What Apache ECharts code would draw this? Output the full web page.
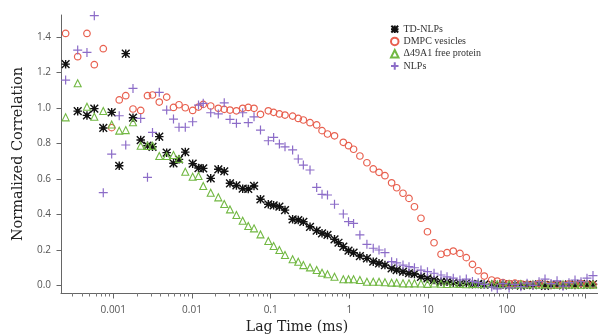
<!DOCTYPE html>
<html><head><meta charset="utf-8">
<script src="https://cdn.jsdelivr.net/npm/echarts@6/dist/echarts.min.js"></script>
<style>html,body{margin:0;padding:0;background:#fff}#c{width:598px;height:335px}</style>
</head><body><div id="c"></div>
<script>
// Lag times (ms), shared correlator channels
const lagTimes = [
0.000248, 0.000353, 0.000463, 0.000574, 0.000746, 0.000954, 0.00119, 0.00144, 0.00178, 0.00223,
0.00272, 0.00315, 0.00384, 0.00477, 0.00582, 0.00684, 0.00822, 0.0102, 0.0121, 0.0139,
0.0173, 0.0216, 0.0257, 0.0304, 0.0367, 0.0441, 0.0519, 0.0614, 0.0742, 0.0933,
0.109, 0.129, 0.152, 0.190, 0.224, 0.260, 0.316, 0.384, 0.449, 0.527,
0.647, 0.727, 0.837, 0.975, 1.13, 1.36, 1.67, 2.01, 2.38, 2.83,
3.44, 3.99, 4.80, 5.72, 6.71, 8.12, 9.82, 11.9, 14.6, 17.4,
20.9, 25.4, 30.6, 36.6, 43.4, 51.8, 64.3, 75.7, 89.5, 107,
127, 151, 181, 215, 257, 306, 365, 435, 518, 617,
736, 877, 1045, 1245];

const tdNlps = [
1.247, 0.982, 0.958, 0.996, 0.887, 0.975, 0.674, 1.306, 0.945, 0.819,
0.787, 0.781, 0.838, 0.748, 0.688, 0.710, 0.751, 0.686, 0.661, 0.659,
0.603, 0.654, 0.643, 0.575, 0.563, 0.545, 0.543, 0.560, 0.485, 0.457,
0.451, 0.443, 0.424, 0.372, 0.368, 0.358, 0.330, 0.308, 0.293, 0.284,
0.259, 0.240, 0.218, 0.195, 0.184, 0.165, 0.152, 0.133, 0.124, 0.114,
0.096, 0.086, 0.077, 0.068, 0.064, 0.048, 0.039, 0.030, 0.020, 0.020,
0.015, 0.010, 0.012, 0.006, 0.008, 0.004, 0.006, 0.002, 0.005, 0.000,
0.004, -0.002, 0.003, 0.001, 0.006, -0.003, 0.002, 0.004, -0.001, 0.005,
0.002, 0.008, 0.003, 0.006];

const dmpcVesicles = [
1.420, 1.289, 1.420, 1.244, 1.334, 0.889, 1.045, 1.069, 0.994, 0.986,
1.069, 1.073, 1.033, 1.061, 1.003, 1.018, 1.001, 0.986, 1.005, 1.020,
1.011, 0.998, 0.992, 0.988, 0.984, 0.998, 1.003, 0.998, 0.964, 0.984,
0.975, 0.966, 0.960, 0.954, 0.941, 0.932, 0.917, 0.904, 0.872, 0.853,
0.843, null, 0.806, 0.787, 0.767, 0.729, 0.691, 0.656, 0.637, 0.618,
0.578, 0.550, 0.519, 0.490, 0.443, 0.378, 0.302, 0.240, 0.175, 0.184,
0.193, 0.180, 0.156, 0.118, 0.082, 0.052, 0.030, 0.024, 0.015, 0.010,
0.012, 0.008, 0.006, 0.004, 0.010, 0.005, 0.002, 0.006, 0.003, 0.008,
0.004, 0.010, 0.006, 0.003];

const freeProtein = [
0.947, 1.139, 1.007, 0.950, 0.983, 0.907, 0.872, 0.875, 0.919, 0.787,
0.785, 0.787, 0.729, 0.729, 0.735, 0.712, 0.640, 0.612, 0.616, 0.560,
0.522, 0.496, 0.458, 0.428, 0.396, 0.364, 0.334, 0.321, 0.287, 0.250,
0.222, 0.199, 0.171, 0.147, 0.133, 0.114, 0.101, 0.086, 0.071, 0.062,
0.048, null, 0.034, 0.034, 0.034, 0.030, 0.020, 0.020, 0.020, 0.017,
0.015, 0.015, 0.011, 0.011, 0.011, 0.010, 0.008, 0.010, 0.009, 0.007,
0.009, 0.008, 0.006, 0.008, 0.007, 0.006, 0.008, 0.005, 0.007, 0.006,
0.004, 0.007, 0.005, 0.006, 0.004, 0.006, 0.005, 0.003, 0.006, 0.004,
0.005, 0.003, 0.005, 0.004];

const nlps = [
1.157, 1.326, 1.313, 1.520, 0.522, 0.740, 0.956, 0.791, 1.110, 0.941,
0.609, 0.862, 1.088, 0.988, 0.937, 0.891, 0.891, 0.922, 1.016, 1.026,
0.973, 0.966, 1.029, 0.936, 0.913, 0.973, 0.917, 0.950, 0.875, 0.815,
0.834, 0.797, 0.781, 0.763, 0.712, 0.678, 0.650, 0.552, 0.513, 0.509,
0.457, null, 0.402, 0.359, 0.349, 0.284, 0.231, 0.209, 0.199, 0.184,
0.133, 0.127, 0.114, 0.105, 0.099, 0.086, 0.077, 0.068, 0.058, 0.048,
0.040, 0.030, 0.035, 0.022, 0.015, 0.005, -0.010, -0.020, 0.010, -0.015,
0.005, -0.008, 0.012, 0.000, 0.020, 0.035, 0.010, 0.025, -0.005, 0.015,
0.030, 0.020, 0.040, 0.055];

const seriesNames = ['TD-NLPs', 'DMPC vesicles', '\u039449A1 free protein', 'NLPs'];
const xLabelValues = [0.001, 0.01, 0.1, 1, 10, 100];
const xMajorTicks = [0.001, 0.01, 0.1, 1, 10, 100, 1000];
const yTickValues = [0, 0.2, 0.4, 0.6, 0.8, 1.0, 1.2, 1.4];

const X_MIN = 2.166e-4, X_MAX = 1442;
const xMinorTicks = [];
for (let e = -4; e <= 2; e++) {
  for (let k = 2; k <= 9; k++) {
    const v = +(k * Math.pow(10, e)).toPrecision(3);
    if (v > X_MIN && v < X_MAX) xMinorTicks.push(v);
  }
}

function pairs(vals) {
  const out = [];
  lagTimes.forEach((t, i) => { if (vals[i] !== null) out.push([t, vals[i]]); });
  return out;
}

const starSym = 'path://M0 0L20 20M20 0L0 20M10 -1L10 21M-1 10L21 10M6.5 6.5L13.5 6.5L13.5 13.5L6.5 13.5Z';
const plusSym = 'path://M10 0L10 20M0 10L20 10';

const chart = echarts.init(document.getElementById('c'), null, {renderer: 'canvas'});
const labelFont = {color: '#555', fontSize: 10, fontFamily: 'Open Sans'};
chart.setOption({
  animation: false,
  backgroundColor: '#fff',
  grid: {left: 61, right: 0, top: 15, bottom: 42, containLabel: false, outerBoundsMode: 'none'},
  legend: {
    orient: 'vertical', left: 390, top: 23, padding: 0, itemGap: 0,
    itemWidth: 7.5, itemHeight: 7.5,
    textStyle: {fontFamily: 'Liberation Serif', fontSize: 10, color: '#333', lineHeight: 12.3},
    data: seriesNames
  },
  xAxis: [{
    type: 'log', logBase: 10, min: X_MIN, max: X_MAX, position: 'bottom',
    axisLine: {show: true, onZero: false, lineStyle: {color: '#666', width: 1}},
    axisTick: {show: true, length: 5.5, customValues: xMajorTicks, lineStyle: {color: '#666'}},
    axisLabel: Object.assign({customValues: xLabelValues, margin: 12,
      formatter: v => String(+(+v).toPrecision(3))}, labelFont),
    splitLine: {show: false},
    name: 'Lag Time (ms)', nameLocation: 'middle', nameGap: 24,
    nameTextStyle: {fontFamily: 'DejaVu Serif', fontSize: 14, color: '#222', padding: [0, 65, 0, 0]}
  }, {
    type: 'log', logBase: 10, min: X_MIN, max: X_MAX, position: 'bottom',
    axisLine: {show: false, onZero: false},
    axisTick: {show: true, length: 3.5, customValues: xMinorTicks, lineStyle: {color: '#777'}},
    axisLabel: {show: false},
    splitLine: {show: false}
  }],
  yAxis: {
    type: 'value', min: -0.0434, max: 1.524,
    axisLine: {show: true, lineStyle: {color: '#666', width: 1}},
    axisTick: {show: true, length: 4.5, customValues: yTickValues, lineStyle: {color: '#666'}},
    axisLabel: Object.assign({customValues: yTickValues, margin: 10,
      formatter: v => (+v).toFixed(1)}, labelFont),
    splitLine: {show: false},
    name: 'Normalized Correlation', nameLocation: 'middle', nameGap: 32, nameRotate: 90,
    nameTextStyle: {fontFamily: 'DejaVu Serif', fontSize: 14.5, color: '#222'}
  },
  series: [{
    name: seriesNames[0], type: 'scatter', xAxisIndex: 0, clip: false, silent: true,
    data: pairs(tdNlps), symbol: starSym, symbolSize: 8.5,
    itemStyle: {color: '#111', borderColor: '#111', borderWidth: 1.4, opacity: 1}
  }, {
    name: seriesNames[1], type: 'scatter', xAxisIndex: 0, clip: false, silent: true,
    data: pairs(dmpcVesicles), symbol: 'circle', symbolSize: 6.5,
    itemStyle: {color: 'rgba(255,255,255,0)', borderColor: '#e8604f', borderWidth: 1.2, opacity: 1}
  }, {
    name: seriesNames[2], type: 'scatter', xAxisIndex: 0, clip: false, silent: true,
    data: pairs(freeProtein), symbol: 'triangle', symbolSize: 7,
    itemStyle: {color: 'rgba(255,255,255,0)', borderColor: '#72b843', borderWidth: 1.1, opacity: 1}
  }, {
    name: seriesNames[3], type: 'scatter', xAxisIndex: 0, clip: false, silent: true,
    data: pairs(nlps), symbol: plusSym, symbolSize: 9,
    itemStyle: {color: '#8c6cc8', borderColor: '#8c6cc8', borderWidth: 1.2, opacity: 1}
  }]
});
</script></body></html>
